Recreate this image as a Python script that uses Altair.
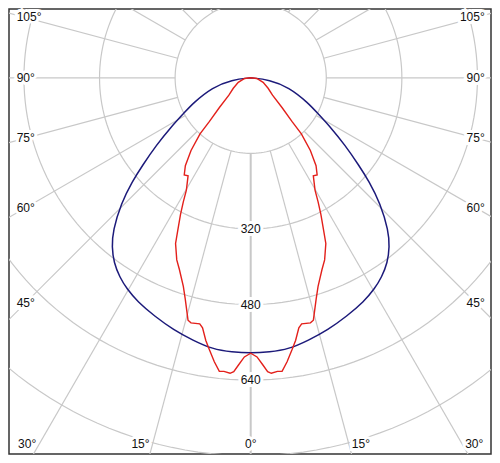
import altair as alt
import numpy as np
import pandas as pd

# ---- data (angle in degrees from nadir, intensity in cd) ----
blue_angles = [0, 3.9, 8.0, 12.4, 17.0, 22.0, 26.8, 30.4, 33.3, 36.5, 39.4, 42.0, 45.9, 48.8,
               51.0, 54.5, 58.3, 62.0, 66.4, 76.2, 84.1, 90]
blue_cd = [583, 582, 580, 569, 558, 544, 531, 518, 505, 487, 463, 436, 382, 333,
           295, 245, 198, 161, 133, 83, 40, 0]

red_angles = [0, 1.3, 2.4, 3.3, 4.0, 5.2, 6.1, 7.3, 8.6, 9.7, 10.9, 11.7, 13.7, 14.5, 16.5,
              17.9, 20.4, 22.1, 24.4, 25.5, 27.2, 28.5, 29.8, 32.6, 34.4, 36.6, 39.4, 42.1,
              43.4, 46.4, 51.5, 59, 70, 83.6, 90]
red_cd = [583, 591, 608, 623, 627, 624, 625, 606, 583, 564, 539, 532, 534, 530, 488,
          464, 433, 416, 385, 359, 325, 299, 274, 246, 249, 232, 199, 160,
          127, 92, 59, 43, 28, 13, 0]

ring_values = [160, 320, 480, 640, 800]
ring_labels = [320, 480, 640]
spoke_angles = list(range(0, 360, 15))
side_label_angles = [45, 60, 75, 90, 105]
bottom_label_angles = [0, 15, 30]

# ---- layout (plot units are candela) ----
W, H = 482, 445
PX = 0.4724                      # pixels per cd
CX, CY = 241.7, 68.8             # pixel position of the pole inside the view
xdom = [-CX / PX, (W - CX) / PX]
ydom = [-(H - CY) / PX, CY / PX]
xs = alt.Scale(domain=xdom, nice=False, zero=False)
ys = alt.Scale(domain=ydom, nice=False, zero=False)
X = lambda f: alt.X(f, type="quantitative", scale=xs, axis=None)
Y = lambda f: alt.Y(f, type="quantitative", scale=ys, axis=None)

FONT = "Liberation Sans"
FS = 12
GRID = "#c8c8c8"

# rings
rows = []
for r in ring_values:
    for i, a in enumerate(np.arange(0, 361, 2)):
        t = np.radians(a)
        rows.append({"ring": r, "i": i, "x": r * np.sin(t), "y": -r * np.cos(t)})
rings = pd.DataFrame(rows)
ring_layer = alt.Chart(rings).mark_line(color=GRID, strokeWidth=1.2, clip=True).encode(
    x=X("x"), y=Y("y"), detail="ring:N", order="i:Q")

# spokes
sp = pd.DataFrame({"a": spoke_angles})
sp["x"] = 160 * np.sin(np.radians(sp["a"]))
sp["y"] = -160 * np.cos(np.radians(sp["a"]))
sp["x2"] = 1200 * np.sin(np.radians(sp["a"]))
sp["y2"] = -1200 * np.cos(np.radians(sp["a"]))
sp["w"] = np.where(sp["a"] == 0, 2.0, 1.2)
spoke_layer = alt.Chart(sp).mark_rule(color=GRID, clip=True).encode(
    x=X("x"), y=Y("y"), x2="x2", y2="y2",
    strokeWidth=alt.StrokeWidth("w:Q", scale=None))


def curve(angles, cd, name):
    rows = []
    k = 0
    for a, v in zip(angles[::-1], cd[::-1]):
        t = np.radians(a)
        rows.append({"k": k, "x": -v * np.sin(t), "y": -v * np.cos(t), "s": name}); k += 1
    for a, v in zip(angles[1:], cd[1:]):
        t = np.radians(a)
        rows.append({"k": k, "x": v * np.sin(t), "y": -v * np.cos(t), "s": name}); k += 1
    return pd.DataFrame(rows)


blue = curve(blue_angles, blue_cd, "C0")
red = curve(red_angles, red_cd, "C90")
blue_layer = alt.Chart(blue).mark_line(color="#1c1a7a", strokeWidth=1.5,
                                       interpolate="basis").encode(
    x=X("x"), y=Y("y"), order="k:Q")
red_layer = alt.Chart(red).mark_line(color="#e3201b", strokeWidth=1.4,
                                     interpolate="linear").encode(
    x=X("x"), y=Y("y"), order="k:Q")

# ring value labels on the 0° spoke
rl = pd.DataFrame({"v": ring_labels})
rl["y"] = -rl["v"]
rl["x"] = 0.0
rl["t"] = rl["v"].astype(str)


def labels(df, align, dx=0):
    halo = alt.Chart(df).mark_text(font=FONT, fontSize=FS, align=align, baseline="middle",
                                   dx=dx, stroke="white", strokeWidth=6, fill="white").encode(
        x=X("x"), y=Y("y"), text="t:N")
    txt = alt.Chart(df).mark_text(font=FONT, fontSize=FS, align=align, baseline="middle",
                                  dx=dx, color="#111111").encode(
        x=X("x"), y=Y("y"), text="t:N")
    return [halo, txt]


# side angle labels: where each spoke meets a vertical line near the frame
SIDE_X = 232.5 / 0.4875
EDGE_X = 241.5 / 0.4875
sl = pd.DataFrame({"a": side_label_angles})
sl["y"] = -SIDE_X / np.tan(np.radians(sl["a"]))
sl["t"] = sl["a"].astype(str) + "°"
sl_left = sl.assign(x=-EDGE_X)
sl_right = sl.assign(x=EDGE_X)

# bottom angle labels: where each spoke meets a horizontal line near the frame
BOT_Y = 378 / 0.4875
bl = pd.DataFrame({"a": bottom_label_angles})
bl["y"] = -BOT_Y
bl["x"] = BOT_Y * np.tan(np.radians(bl["a"]))
bl["t"] = bl["a"].astype(str) + "°"
bl_center = bl[bl["a"] == 0]
bl_right = bl[bl["a"] > 0]
bl_left = bl_right.assign(x=-bl_right["x"])

layers = [ring_layer, spoke_layer]
layers += labels(rl, "center")
layers += labels(sl_left, "left") + labels(sl_right, "right")
layers += labels(bl_center, "center") + labels(bl_right, "left", 3) + labels(bl_left, "right", -3)
layers += [blue_layer, red_layer]

chart = alt.layer(*layers).properties(
    width=W, height=H, padding=1, autosize=alt.AutoSizeParams(type="none"),
    background="white"
).configure_view(stroke="#333333", strokeWidth=1.5)

chart.save("out.html", embed_options={"renderer": "svg", "actions": False})
